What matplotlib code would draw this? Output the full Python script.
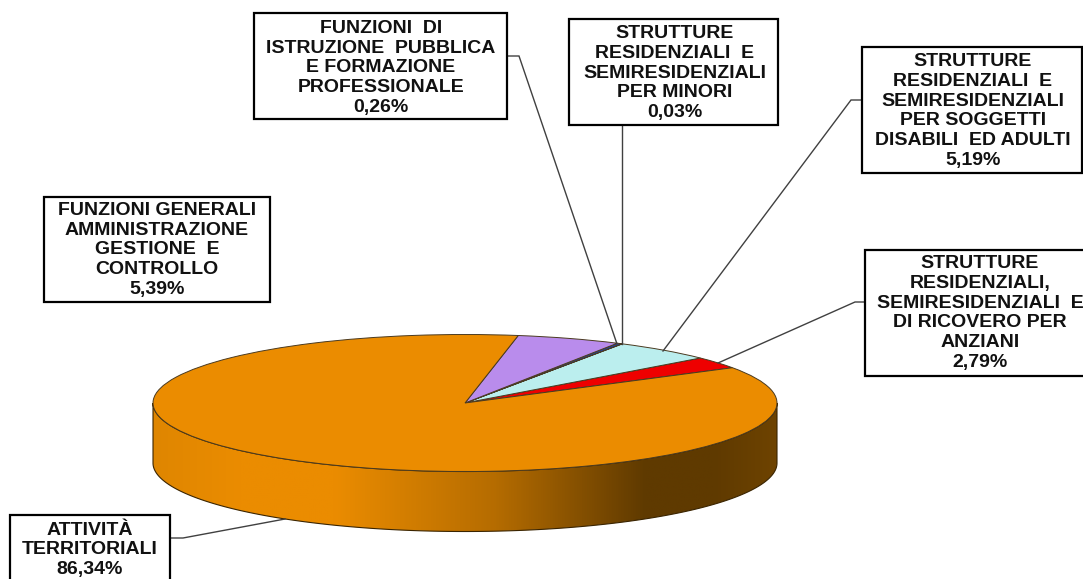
import numpy as np
import matplotlib
matplotlib.use("Agg")
import matplotlib.pyplot as plt
from matplotlib.patches import Rectangle, PathPatch
from matplotlib.path import Path
from matplotlib.colors import LinearSegmentedColormap

plt.rcParams['font.family'] = ['Liberation Sans', 'DejaVu Sans']

# Data
categories = [
    "STRUTTURE\nRESIDENZIALI,\nSEMIRESIDENZIALI  E\nDI RICOVERO PER\nANZIANI",
    "STRUTTURE\nRESIDENZIALI  E\nSEMIRESIDENZIALI\nPER SOGGETTI\nDISABILI  ED ADULTI",
    "STRUTTURE\nRESIDENZIALI  E\nSEMIRESIDENZIALI\nPER MINORI",
    "FUNZIONI  DI\nISTRUZIONE  PUBBLICA\nE FORMAZIONE\nPROFESSIONALE",
    "FUNZIONI GENERALI\nAMMINISTRAZIONE\nGESTIONE  E\nCONTROLLO",
    "ATTIVITÀ\nTERRITORIALI",
]
values = [2.79, 5.19, 0.03, 0.26, 5.39, 86.34]
value_labels = ["2,79%", "5,19%", "0,03%", "0,26%", "5,39%", "86,34%"]
colors = ["#EE0000", "#BBEEEE", "#111111", "#2244AA", "#B98CEC", "#EB8C00"]

# Layout (pixels)
W, H = 1083, 579
cx, cy, rx, ry, depth = 465, 403, 312, 68.5, 60
boxes = [(865, 250, 230, 126), (862, 47, 220, 126), (569, 19, 209, 106),
         (254, 13, 253, 106), (44, 197, 226, 105), (10, 515, 160, 80)]
text_centres = [(980, 313), (973, 111), (675, 73), (381, 68), (157, 250), (90, 550)]
leaders = [
    ([865, 855, 718], [302, 302, 363]),
    ([862, 851, 663], [100, 100, 351]),
    ([622, 622], [125, 344]),
    ([507, 519, 617], [56, 56, 344]),
    ([170, 183, 285], [538, 538, 519]),
]

fig = plt.figure(figsize=(W / 100, H / 100), dpi=100, facecolor="white")

# Background pixel axes: extruded side of the pie
bg = fig.add_axes([0, 0, 1, 1], zorder=0)
bg.set_xlim(0, W); bg.set_ylim(H, 0); bg.axis("off")
t = np.linspace(0, np.pi, 300)
ex = cx + rx * np.cos(t)
ey = cy + ry * np.sin(t)
verts = np.r_[np.c_[ex, ey + depth], np.c_[ex[::-1], ey[::-1]]]
band = Path(np.r_[verts, verts[:1]], closed=True)
outline = PathPatch(band, facecolor="none", edgecolor="#3a2400", lw=0.8, zorder=3)
bg.add_patch(outline)
side = LinearSegmentedColormap.from_list("side", [
    (0.00, "#DF8600"), (0.14, "#EB8C00"), (0.29, "#EB8C00"), (0.55, "#B56C00"),
    (0.79, "#5F3A00"), (0.90, "#5F3A00"), (1.00, "#6E4300")])
grad = np.linspace(0, 1, 512)[None, :]
im = bg.imshow(grad, cmap=side, extent=[cx - rx, cx + rx, cy + ry + depth + 1, cy - 1],
               aspect="auto", zorder=2, interpolation="bilinear")
im.set_clip_path(PathPatch(band, transform=bg.transData))
bg.set_xlim(0, W); bg.set_ylim(H, 0)

# Top of the pie
pie_ax = fig.add_axes([(cx - rx) / W, 1 - (cy + ry) / H, 2 * rx / W, 2 * ry / H], zorder=1)
pie_ax.patch.set_alpha(0)
pie_ax.pie(values, colors=colors, startangle=31, counterclock=True, radius=1,
           wedgeprops=dict(edgecolor="#4a3a20", linewidth=0.7))
pie_ax.set_aspect("auto")
pie_ax.set_xlim(-1, 1); pie_ax.set_ylim(-1, 1)
pie_ax.axis("off")

# Annotation overlay
ov = fig.add_axes([0, 0, 1, 1], zorder=2)
ov.set_xlim(0, W); ov.set_ylim(H, 0); ov.axis("off"); ov.patch.set_alpha(0)
for xs, ys in leaders:
    ov.plot(xs, ys, color="#404040", lw=1.0, solid_joinstyle="miter")
for cat, lab, (bx, by, bw, bh), (tx, ty) in zip(categories, value_labels, boxes, text_centres):
    ov.add_patch(Rectangle((bx, by), bw, bh, facecolor="white", edgecolor="black", lw=1.6, zorder=3))
    ov.text(tx, ty, cat + "\n" + lab, ha="center", va="center", fontsize=14,
            fontweight="bold", color="#111111", linespacing=1.2, zorder=4)

fig.savefig("out.png", dpi=100)
